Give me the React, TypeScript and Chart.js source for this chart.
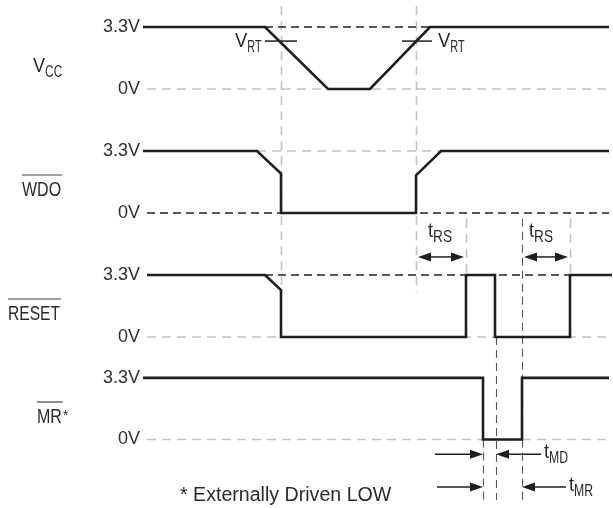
import React, { useEffect, useRef } from 'react';
import { Chart, registerables } from 'chart.js';
Chart.register(...registerables);

const FONT = '"Liberation Sans", Arial, sans-serif';
const INK = '#1e1e1e';
const GREY = '#c2c2c2';

// Level ticks shown on every row
const levelTicks = [0, 3.3];
const levelLabels = ['0V', '3.3V'];

// Signals: time breakpoints and voltages
const timeVCC = [143, 265, 328, 370, 430, 609];
const voltVCC = [3.3, 3.3, 0, 0, 3.3, 3.3];
const timeWDO = [143, 257, 281, 281, 416, 416, 441, 609];
const voltWDO = [3.3, 3.3, 2.1, 0, 0, 2.0, 3.3, 3.3];
const timeRESET = [147, 265, 281, 281, 466, 466, 495, 495, 570, 570, 612];
const voltRESET = [3.3, 3.3, 2.5, 0, 0, 3.3, 3.3, 0, 0, 3.3, 3.3];
const timeMR = [143, 483, 483, 522, 522, 609];
const voltMR = [3.3, 3.3, 0, 0, 3.3, 3.3];

// Reset threshold and its crossing times
const VRT = 2.55;
const vrtLeft = [265, 297];
const vrtRight = [402, 432];

// Timing intervals
const tRS1 = [416, 466];
const tRS2 = [522, 570];
const tMD = [483, 496];
const tMR = [483, 522];
const tMDtails = [435, 541];
const tMRtails = [437, 566];

export default function App() {
  const canvasRef = useRef<HTMLCanvasElement>(null);

  useEffect(() => {
    document.body.style.margin = '0';
    const canvas = canvasRef.current!;
    const pts = (t: number[], v: number[]) => t.map((x, i) => ({ x, y: v[i] }));

    const signal = (t: number[], v: number[], axis: string) => ({
      data: pts(t, v), yAxisID: axis, borderColor: INK, borderWidth: 2.6,
      pointRadius: 0, fill: false, tension: 0, order: 0, clip: false,
      borderJoinStyle: 'miter' as const, borderCapStyle: 'butt' as const,
    });
    const refLine = (t: number[], level: number, axis: string, dark: boolean) => ({
      data: [{ x: t[0], y: level }, { x: t[1], y: level }], yAxisID: axis,
      borderColor: dark ? '#222' : GREY, borderWidth: dark ? 1.3 : 1.6,
      borderDash: dark ? [8, 5] : [9, 6], pointRadius: 0, fill: false, order: 2, clip: false,
    });
    const solidTick = (t: number[], level: number, axis: string) => ({
      data: [{ x: t[0], y: level }, { x: t[1], y: level }], yAxisID: axis,
      borderColor: INK, borderWidth: 1.5, pointRadius: 0, fill: false, order: 1, clip: false,
    });

    const axis = (min: number, max: number, weight: number, sw: number) => ({
      type: 'linear' as const, position: 'left' as const, stack: 'sig', stackWeight: sw, weight,
      min, max,
      grid: { display: false, drawTicks: false },
      border: { display: false },
      afterBuildTicks: (s: any) => { s.ticks = levelTicks.map((v) => ({ value: v })); },
      afterFit: (s: any) => { s.width = 143; s.paddingTop = 0; s.paddingBottom = 0; },
      ticks: {
        autoSkip: false, padding: 3, color: '#2e2e2e',
        font: { family: FONT, size: 18 },
        callback: (v: any) => levelLabels[levelTicks.indexOf(Number(v))] ?? '',
      },
    });

    const line = (ctx: CanvasRenderingContext2D, x1: number, y1: number, x2: number, y2: number) => {
      ctx.beginPath(); ctx.moveTo(x1, y1); ctx.lineTo(x2, y2); ctx.stroke();
    };
    const arrow = (ctx: CanvasRenderingContext2D, xTail: number, xHead: number, y: number) => {
      const dir = Math.sign(xHead - xTail);
      ctx.save();
      ctx.strokeStyle = INK; ctx.fillStyle = INK; ctx.lineWidth = 1.5; ctx.setLineDash([]);
      line(ctx, xTail, y, xHead - dir * 8, y);
      ctx.beginPath();
      ctx.moveTo(xHead, y);
      ctx.lineTo(xHead - dir * 13, y - 4.5);
      ctx.lineTo(xHead - dir * 13, y + 4.5);
      ctx.closePath(); ctx.fill();
      ctx.restore();
    };
    const text = (ctx: CanvasRenderingContext2D, s: string, x: number, y: number, size: number, h = 1) => {
      ctx.save();
      ctx.font = `${size}px ${FONT}`;
      ctx.translate(x, y);
      ctx.scale(h, 1);
      ctx.fillText(s, 0, 0);
      const w = ctx.measureText(s).width * h;
      ctx.restore();
      return w;
    };
    const subText = (ctx: CanvasRenderingContext2D, main: string, sub: string, x: number, y: number,
      hSub = 0.72, mainSize = 20, hMain = 0.92, subSize = 17, drop = 5) => {
      const w = text(ctx, main, x, y, mainSize, hMain);
      text(ctx, sub, x + w, y + drop, subSize, hSub);
    };
    const overText = (ctx: CanvasRenderingContext2D, s: string, x: number, y: number, h: number, size = 20) => {
      const w = text(ctx, s, x, y, size, h);
      ctx.save(); ctx.strokeStyle = '#444'; ctx.lineWidth = 1.2; ctx.setLineDash([]);
      line(ctx, x, y - 21, x + w + 1, y - 21);
      ctx.restore();
      return w;
    };

    const guides: { t: number; from: [string, number]; to: [string, number]; dark: boolean }[] = [
      { t: 281, from: ['yVCC', 4.4], to: ['yRST', 2.5], dark: false },
      { t: 416, from: ['yVCC', 4.4], to: ['yRST', 2.4], dark: false },
      { t: 466, from: ['yWDO', -0.3], to: ['yRST', 3.3], dark: false },
      { t: 570, from: ['yWDO', -0.3], to: ['yRST', 3.3], dark: false },
      { t: 522, from: ['yWDO', -0.3], to: ['yMR', -3.25], dark: true },
      { t: 496, from: ['yRST', 0], to: ['yMR', -3.25], dark: true },
      { t: 483, from: ['yMR', 0], to: ['yMR', -3.25], dark: true },
    ];

    const annot = {
      id: 'annot',
      beforeDatasetsDraw(chart: any) {
        const ctx = chart.ctx as CanvasRenderingContext2D;
        const X = chart.scales.x;
        ctx.save();
        for (const g of guides) {
          ctx.strokeStyle = g.dark ? '#555' : GREY;
          ctx.lineWidth = g.dark ? 1.1 : 1.6;
          ctx.setLineDash(g.dark ? [8, 5] : [9, 6]);
          const x = Math.round(X.getPixelForValue(g.t)) + 0.5;
          line(ctx, x, chart.scales[g.from[0]].getPixelForValue(g.from[1]), x, chart.scales[g.to[0]].getPixelForValue(g.to[1]));
        }
        ctx.restore();
      },
      afterDatasetsDraw(chart: any) {
        const ctx = chart.ctx as CanvasRenderingContext2D;
        const X = chart.scales.x;
        const px = (t: number) => X.getPixelForValue(t);
        ctx.save();
        ctx.fillStyle = '#2a2a2a';
        ctx.textBaseline = 'alphabetic';
        ctx.textAlign = 'left';

        // Row labels
        subText(ctx, 'V', 'CC', 33, 72, 0.7, 21, 0.86, 17, 5);
        overText(ctx, 'WDO', 22, 196, 0.8);
        overText(ctx, 'RESET', 8, 320, 0.78);
        const wMR = overText(ctx, 'MR', 37, 423, 0.8);
        text(ctx, '*', 37 + wMR + 1, 420, 15, 0.9);

        // VRT labels
        subText(ctx, 'V', 'RT', 235, 47, 0.64);
        subText(ctx, 'V', 'RT', 438, 47, 0.64);

        // tRS arrows + labels
        const yRS = chart.scales.yRST.getPixelForValue(4.26);
        for (const seg of [tRS1, tRS2]) {
          const a = px(seg[0]) + 2, b = px(seg[1]) - 2;
          const m = (a + b) / 2;
          arrow(ctx, m, a, yRS);
          arrow(ctx, m, b, yRS);
        }
        ctx.fillStyle = '#2a2a2a';
        subText(ctx, 't', 'RS', px(tRS1[0]) + 12, 237, 0.8);
        subText(ctx, 't', 'RS', px(tRS2[0]) + 7, 237, 0.8);

        // tMD / tMR arrows
        const yMD = chart.scales.yMR.getPixelForValue(-0.8);
        const yMRr = chart.scales.yMR.getPixelForValue(-2.55);
        arrow(ctx, px(tMDtails[0]), px(tMD[0]), yMD);
        arrow(ctx, px(tMDtails[1]), px(tMD[1]), yMD);
        arrow(ctx, px(tMRtails[0]), px(tMR[0]), yMRr);
        arrow(ctx, px(tMRtails[1]), px(tMR[1]), yMRr);
        ctx.fillStyle = '#2a2a2a';
        subText(ctx, 't', 'MD', px(tMDtails[1]) + 3, 458, 0.72);
        subText(ctx, 't', 'MR', px(tMRtails[1]) + 3, 491, 0.72);

        // Footnote
        text(ctx, '* Externally Driven LOW', 180, 501, 20, 0.98);
        ctx.restore();
      },
    };

    const chart = new Chart(canvas, {
      type: 'line',
      data: {
        datasets: [
          signal(timeVCC, voltVCC, 'yVCC'),
          signal(timeWDO, voltWDO, 'yWDO'),
          signal(timeRESET, voltRESET, 'yRST'),
          signal(timeMR, voltMR, 'yMR'),
          refLine([265, 430], 3.3, 'yVCC', true),
          refLine([147, 609], 0, 'yVCC', false),
          refLine([257, 441], 3.3, 'yWDO', false),
          refLine([147, 609], 0, 'yWDO', true),
          refLine([265, 612], 3.3, 'yRST', true),
          refLine([147, 609], 0, 'yRST', false),
          refLine([147, 609], 0, 'yMR', false),
          solidTick(vrtLeft, VRT, 'yVCC'),
          solidTick(vrtRight, VRT, 'yVCC'),
        ] as any,
      },
      options: {
        animation: false,
        responsive: true,
        maintainAspectRatio: false,
        layout: { padding: { top: 5, bottom: 3, left: 0, right: 2 } },
        plugins: { legend: { display: false }, tooltip: { enabled: false } },
        scales: {
          x: { type: 'linear', min: 143, max: 611, display: false },
          yVCC: axis(-1.65, 4.471, 4, 115),
          yWDO: axis(-1.65, 4.95, 3, 124),
          yRST: axis(-1.065, 4.95, 2, 113),
          yMR: axis(-3.513, 4.418, 1, 148),
        } as any,
      },
      plugins: [annot],
    });
    return () => chart.destroy();
  }, []);

  return (
    <div style={{ width: 613, height: 508, position: 'relative', background: '#fff' }}>
      <canvas ref={canvasRef} />
    </div>
  );
}
